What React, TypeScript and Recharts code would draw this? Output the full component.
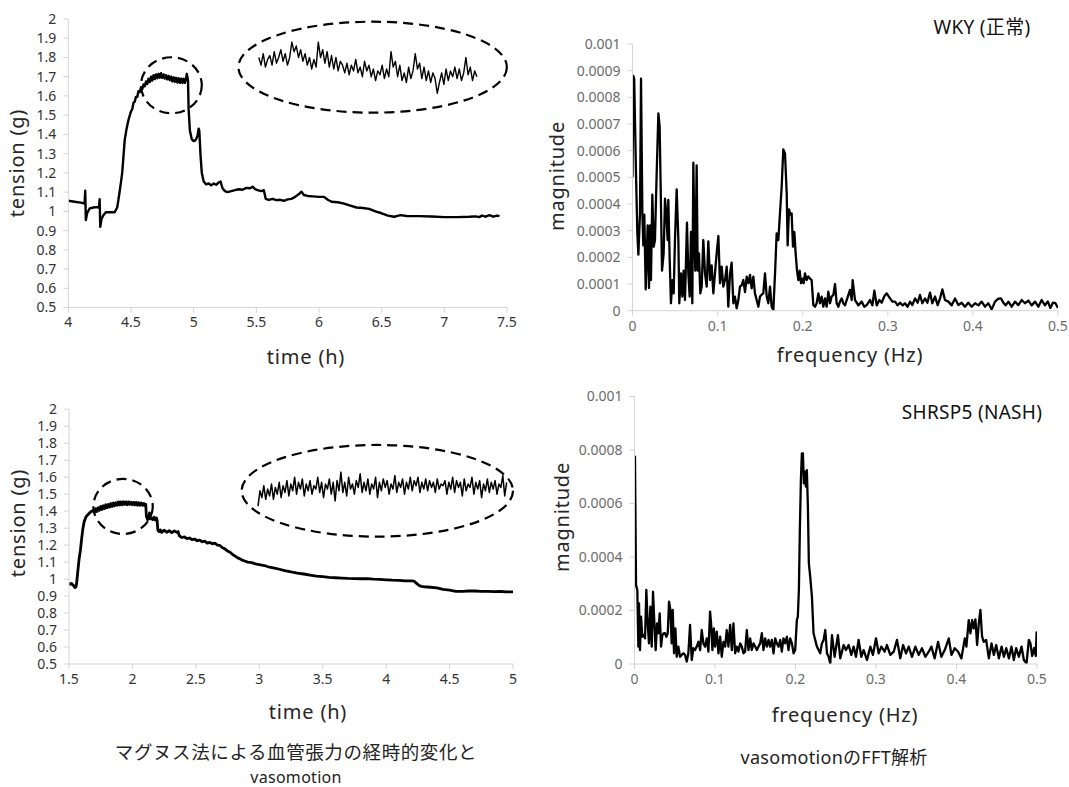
import React from "react";
import { LineChart, Line, XAxis, YAxis, ReferenceArea } from "recharts";

const FONT = '"Noto Sans", "Noto Sans CJK JP", sans-serif';
const AXIS = "#d4d4d4";

// ---- WKY (control): tension trace [time h, tension g]
const wkyTension: [number, number][] = [
  [4.0, 1.055], [4.05, 1.05], [4.1, 1.045], [4.13, 1.04], [4.135, 1.107], [4.14, 0.955], [4.15, 0.99],
  [4.17, 1.015], [4.2, 1.02], [4.23, 1.022], [4.245, 1.02], [4.25, 1.063], [4.255, 0.92], [4.265, 0.96],
  [4.28, 0.98], [4.3, 0.995], [4.33, 0.995], [4.37, 0.995], [4.39, 1.02], [4.4, 1.06], [4.42, 1.15],
  [4.43, 1.2], [4.45, 1.37], [4.465, 1.43], [4.48, 1.475], [4.5, 1.52], [4.51, 1.53], [4.52, 1.565],
  [4.53, 1.57], [4.54, 1.595], [4.55, 1.595], [4.56, 1.625], [4.57, 1.62], [4.58, 1.645], [4.59, 1.635],
  [4.6, 1.66], [4.61, 1.65], [4.62, 1.675], [4.63, 1.662], [4.64, 1.69], [4.65, 1.672], [4.66, 1.7],
  [4.67, 1.68], [4.68, 1.708], [4.69, 1.688], [4.7, 1.712], [4.71, 1.692], [4.72, 1.715], [4.73, 1.695],
  [4.74, 1.718], [4.75, 1.694], [4.76, 1.712], [4.77, 1.69], [4.78, 1.708], [4.79, 1.686], [4.8, 1.704],
  [4.81, 1.682], [4.82, 1.7], [4.83, 1.676], [4.84, 1.697], [4.85, 1.673], [4.86, 1.694], [4.87, 1.67],
  [4.88, 1.692], [4.89, 1.668], [4.9, 1.69], [4.91, 1.667], [4.92, 1.69], [4.93, 1.668], [4.94, 1.692],
  [4.945, 1.715], [4.955, 1.68], [4.96, 1.53], [4.97, 1.42], [4.985, 1.375], [5.0, 1.365], [5.015, 1.37],
  [5.03, 1.39], [5.04, 1.43], [5.045, 1.42], [5.055, 1.29], [5.065, 1.2], [5.08, 1.155], [5.1, 1.14],
  [5.12, 1.145], [5.14, 1.135], [5.16, 1.145], [5.18, 1.138], [5.2, 1.15], [5.215, 1.155], [5.23, 1.12],
  [5.25, 1.105], [5.27, 1.1], [5.3, 1.105], [5.33, 1.11], [5.36, 1.115], [5.39, 1.112], [5.42, 1.122],
  [5.45, 1.12], [5.47, 1.128], [5.49, 1.115], [5.51, 1.11], [5.54, 1.105], [5.56, 1.11], [5.575, 1.065],
  [5.6, 1.06], [5.63, 1.065], [5.66, 1.058], [5.69, 1.06], [5.72, 1.055], [5.75, 1.062], [5.78, 1.065],
  [5.81, 1.075], [5.84, 1.09], [5.86, 1.102], [5.88, 1.085], [5.91, 1.08], [5.95, 1.078], [6.0, 1.075],
  [6.04, 1.075], [6.07, 1.06], [6.1, 1.05], [6.15, 1.047], [6.2, 1.04], [6.25, 1.03], [6.3, 1.02],
  [6.35, 1.017], [6.4, 1.013], [6.45, 1.0], [6.5, 0.99], [6.55, 0.978], [6.6, 0.972], [6.65, 0.98],
  [6.7, 0.976], [6.8, 0.975], [6.9, 0.973], [7.0, 0.97], [7.1, 0.97], [7.2, 0.972], [7.25, 0.974],
  [7.28, 0.97], [7.3, 0.978], [7.33, 0.972], [7.36, 0.98], [7.39, 0.972], [7.42, 0.978], [7.44, 0.975],
];

// zoomed vasomotion trace shown inside the big ring (tension g), sampled evenly
const wkyInset = [
  1.8, 1.76, 1.82, 1.75, 1.79, 1.81, 1.76, 1.83, 1.77, 1.8,
  1.84, 1.78, 1.82, 1.76, 1.8, 1.88, 1.83, 1.86, 1.8, 1.84,
  1.78, 1.82, 1.76, 1.8, 1.74, 1.79, 1.75, 1.88, 1.8, 1.84,
  1.77, 1.83, 1.75, 1.81, 1.74, 1.8, 1.73, 1.78, 1.76, 1.72,
  1.77, 1.71, 1.76, 1.73, 1.79, 1.72, 1.75, 1.7, 1.78, 1.73,
  1.76, 1.7, 1.74, 1.68, 1.73, 1.71, 1.76, 1.69, 1.74, 1.7,
  1.83, 1.75, 1.78, 1.7, 1.76, 1.68, 1.72, 1.67, 1.75, 1.69,
  1.73, 1.82, 1.74, 1.77, 1.69, 1.75, 1.68, 1.73, 1.67, 1.72,
  1.69, 1.614, 1.67, 1.72, 1.66, 1.74, 1.68, 1.73, 1.7, 1.75,
  1.69, 1.74, 1.68, 1.72, 1.8, 1.71, 1.75, 1.68, 1.73, 1.7,
];
const wkyInsetStart = 5.52;
const wkyInsetEnd = 7.26;
const wkyRings = [
  { x1: 5.357, x2: 7.499, y1: 1.513, y2: 1.986 },
  { x1: 4.58, x2: 5.065, y1: 1.51, y2: 1.801 },
];

// ---- SHRSP5 (NASH): tension trace [time h, tension g]
const nashTension: [number, number][] = [
  [1.5, 0.978], [1.51, 0.97], [1.52, 0.975], [1.53, 0.965], [1.54, 0.96], [1.545, 0.95], [1.555, 0.955],
  [1.56, 0.975], [1.57, 1.05], [1.58, 1.12], [1.59, 1.17], [1.6, 1.24], [1.61, 1.3], [1.62, 1.34],
  [1.635, 1.368], [1.65, 1.38], [1.67, 1.395], [1.69, 1.405], [1.7, 1.392], [1.71, 1.415], [1.72, 1.398],
  [1.73, 1.42], [1.74, 1.405], [1.75, 1.428], [1.76, 1.41], [1.77, 1.432], [1.78, 1.415], [1.79, 1.438],
  [1.8, 1.42], [1.81, 1.44], [1.82, 1.425], [1.83, 1.445], [1.84, 1.428], [1.85, 1.448], [1.86, 1.432],
  [1.87, 1.45], [1.88, 1.435], [1.89, 1.455], [1.9, 1.437], [1.91, 1.455], [1.92, 1.438], [1.93, 1.456],
  [1.94, 1.44], [1.95, 1.455], [1.96, 1.438], [1.97, 1.455], [1.98, 1.44], [1.99, 1.453], [2.0, 1.438],
  [2.01, 1.452], [2.02, 1.437], [2.03, 1.452], [2.04, 1.435], [2.05, 1.45], [2.06, 1.435], [2.07, 1.448],
  [2.08, 1.434], [2.09, 1.446], [2.1, 1.432], [2.105, 1.44], [2.11, 1.37], [2.12, 1.35], [2.13, 1.365],
  [2.135, 1.39], [2.14, 1.355], [2.15, 1.36], [2.16, 1.35], [2.17, 1.365], [2.18, 1.348], [2.19, 1.36],
  [2.195, 1.345], [2.2, 1.29], [2.21, 1.28], [2.22, 1.29], [2.23, 1.275], [2.25, 1.288], [2.27, 1.276],
  [2.29, 1.285], [2.31, 1.274], [2.33, 1.284], [2.35, 1.275], [2.36, 1.28], [2.37, 1.255], [2.39, 1.245],
  [2.41, 1.248], [2.43, 1.238], [2.45, 1.242], [2.47, 1.232], [2.49, 1.236], [2.51, 1.226], [2.53, 1.23],
  [2.55, 1.22], [2.57, 1.224], [2.59, 1.212], [2.61, 1.216], [2.63, 1.208], [2.65, 1.212], [2.67, 1.2],
  [2.69, 1.198], [2.71, 1.185], [2.73, 1.178], [2.75, 1.165], [2.77, 1.158], [2.79, 1.145], [2.81, 1.135],
  [2.83, 1.125], [2.85, 1.118], [2.87, 1.11], [2.89, 1.105], [2.91, 1.1], [2.94, 1.097], [2.97, 1.09],
  [3.0, 1.085], [3.04, 1.08], [3.08, 1.07], [3.12, 1.065], [3.16, 1.058], [3.2, 1.05], [3.25, 1.042],
  [3.3, 1.035], [3.35, 1.03], [3.4, 1.024], [3.45, 1.018], [3.5, 1.014], [3.55, 1.01], [3.6, 1.008],
  [3.65, 1.006], [3.7, 1.004], [3.75, 1.003], [3.8, 1.002], [3.85, 1.003], [3.9, 1.0], [3.95, 0.998],
  [4.0, 0.996], [4.05, 0.994], [4.1, 0.993], [4.15, 0.99], [4.2, 0.99], [4.22, 0.988], [4.24, 0.975],
  [4.26, 0.962], [4.28, 0.957], [4.3, 0.955], [4.35, 0.952], [4.4, 0.948], [4.45, 0.94], [4.5, 0.935],
  [4.55, 0.928], [4.6, 0.928], [4.65, 0.93], [4.7, 0.93], [4.75, 0.928], [4.8, 0.928], [4.85, 0.926],
  [4.9, 0.927], [4.95, 0.925], [5.0, 0.925],
];

const nashInset = [
  1.43, 1.52, 1.48, 1.55, 1.47, 1.53, 1.49, 1.56, 1.47, 1.54,
  1.5, 1.57, 1.48, 1.55, 1.51, 1.58, 1.49, 1.56, 1.52, 1.6,
  1.5, 1.57, 1.53, 1.59, 1.49, 1.56, 1.52, 1.58, 1.5, 1.55,
  1.53, 1.6, 1.51, 1.57, 1.48, 1.56, 1.53, 1.59, 1.5, 1.57,
  1.46, 1.58, 1.52, 1.63, 1.51, 1.57, 1.49, 1.6, 1.53, 1.56,
  1.5, 1.58, 1.54, 1.62, 1.51, 1.57, 1.52, 1.59, 1.5, 1.56,
  1.53, 1.6, 1.48, 1.57, 1.52, 1.59, 1.54, 1.58, 1.5, 1.56,
  1.53, 1.61, 1.51, 1.57, 1.54, 1.59, 1.5, 1.57, 1.53, 1.6,
  1.52, 1.58, 1.55, 1.6, 1.51, 1.57, 1.53, 1.59, 1.52, 1.58,
  1.54, 1.57, 1.51, 1.59, 1.53, 1.56, 1.55, 1.58, 1.5, 1.57,
  1.53, 1.6, 1.51, 1.58, 1.54, 1.57, 1.49, 1.59, 1.52, 1.56,
  1.54, 1.6, 1.5, 1.57, 1.53, 1.58, 1.48, 1.56, 1.52, 1.59,
  1.51, 1.57, 1.53, 1.58, 1.5, 1.56, 1.54, 1.61, 1.49, 1.57,
];
const nashInsetStart = 2.99;
const nashInsetEnd = 4.95;
const nashRings = [
  { x1: 2.861, x2: 5.0, y1: 1.25, y2: 1.79 },
  { x1: 1.692, x2: 2.16, y1: 1.266, y2: 1.59 },
];

// ---- FFT spectra: [frequency Hz, magnitude x 1e-4]
const wkyFft: [number, number][] = [
  [0, 5.0], [0.001, 8.8], [0.002, 8.7], [0.0041, 5.15], [0.0057, 2.9], [0.0069, 2.1], [0.0088, 3.65],
  [0.01, 8.7], [0.0116, 3.65], [0.0127, 2.45], [0.0139, 3.6], [0.0155, 0.8], [0.0178, 3.2], [0.0194, 0.85],
  [0.0206, 3.2], [0.0217, 1.15], [0.0233, 4.35], [0.0249, 2.4], [0.0264, 2.65], [0.0284, 5.15], [0.0304, 7.4],
  [0.0319, 6.9], [0.0335, 3.9], [0.0347, 1.5], [0.0366, 2.15], [0.0382, 4.2], [0.0397, 3.65], [0.0413, 2.65],
  [0.0421, 4.15], [0.0437, 1.9], [0.0452, 0.28], [0.0468, 1.15], [0.0484, 0.65], [0.0499, 2.65], [0.0519, 4.55],
  [0.0539, 2.65], [0.055, 0.28], [0.057, 1.4], [0.0586, 0.53], [0.0601, 1.5], [0.0617, 0.4], [0.064, 3.3],
  [0.0656, 1.4], [0.0672, 0.53], [0.0687, 2.95], [0.0703, 0.28], [0.0715, 5.55], [0.0727, 2.9], [0.0738, 1.5],
  [0.0754, 5.45], [0.0766, 1.5], [0.0781, 2.15], [0.0797, 0.65], [0.0813, 0.9], [0.0832, 2.65], [0.0852, 1.4],
  [0.0872, 0.9], [0.0891, 2.6], [0.0911, 1.15], [0.093, 1.7], [0.095, 0.65], [0.0969, 1.4], [0.0989, 2.15],
  [0.1009, 2.8], [0.1028, 1.03], [0.1048, 1.65], [0.1067, 0.9], [0.1087, 1.15], [0.1107, 1.65], [0.1126, 0.15],
  [0.1146, 1.4], [0.1165, 1.8], [0.1185, 0.28], [0.1204, 0.53], [0.1224, 0.09], [0.1244, 0.4], [0.1263, 0.9],
  [0.1283, 0.96], [0.1302, 1.15], [0.1322, 0.7], [0.1342, 1.28], [0.1361, 1.03], [0.1381, 1.34], [0.14, 0.84],
  [0.142, 1.28], [0.1439, 0.65], [0.1459, 0.4], [0.1479, 0.15], [0.1498, 0.53], [0.1518, 0.6], [0.1537, 0.65],
  [0.1557, 1.4], [0.1577, 0.53], [0.1596, 0.28], [0.1616, 0.9], [0.1635, 0.15], [0.1655, 0.03], [0.1675, 1.4],
  [0.1694, 2.9], [0.1714, 2.65], [0.1733, 3.65], [0.1753, 4.65], [0.1772, 6.05], [0.1792, 5.9], [0.1812, 4.4],
  [0.1823, 2.45], [0.1839, 3.8], [0.1855, 3.6], [0.187, 3.65], [0.1886, 2.4], [0.1902, 2.95], [0.1917, 2.15],
  [0.1933, 1.5], [0.1949, 1.15], [0.1964, 1.5], [0.198, 1.03], [0.1996, 1.2], [0.2011, 1.03], [0.2027, 1.4],
  [0.2046, 1.15], [0.2066, 1.28], [0.2086, 1.2], [0.2105, 1.15], [0.2125, 0.21], [0.2145, 0.15], [0.2164, 0.28],
  [0.2184, 0.65], [0.2203, 0.28], [0.2223, 0.53], [0.2242, 0.15], [0.2262, 0.46], [0.2282, 0.15], [0.2301, 0.71],
  [0.2321, 0.28], [0.234, 0.53], [0.236, 0.59], [0.238, 1.0], [0.2399, 0.28], [0.2419, 0.15], [0.2438, 0.34],
  [0.2458, 0.46], [0.2477, 0.28], [0.2497, 0.2], [0.2556, 0.78], [0.2576, 0.4], [0.2587, 1.15], [0.2615, 0.4],
  [0.2654, 0.2], [0.2693, 0.34], [0.2724, 0.15], [0.2752, 0.21], [0.2791, 0.4], [0.2819, 0.2], [0.2842, 0.75],
  [0.287, 0.2], [0.2901, 0.4], [0.2928, 0.3], [0.296, 0.55], [0.2987, 0.65], [0.3026, 0.46], [0.3053, 0.34],
  [0.3085, 0.34], [0.3116, 0.2], [0.3143, 0.3], [0.3175, 0.2], [0.3202, 0.28], [0.3233, 0.15], [0.3261, 0.34],
  [0.3288, 0.21], [0.332, 0.46], [0.3351, 0.3], [0.3378, 0.59], [0.3406, 0.28], [0.3437, 0.46], [0.3465, 0.3],
  [0.3496, 0.68], [0.3523, 0.28], [0.3555, 0.53], [0.3586, 0.21], [0.3614, 0.46], [0.3641, 0.8], [0.3672, 0.4],
  [0.3712, 0.34], [0.3751, 0.2], [0.379, 0.46], [0.3829, 0.21], [0.3868, 0.3], [0.3907, 0.15], [0.3946, 0.3],
  [0.3986, 0.15], [0.4025, 0.28], [0.4064, 0.2], [0.4103, 0.34], [0.4142, 0.15], [0.4181, 0.28], [0.4221, 0.05],
  [0.426, 0.34], [0.4299, 0.45], [0.433, 0.46], [0.4358, 0.3], [0.4385, 0.2], [0.4417, 0.34], [0.4456, 0.15],
  [0.4495, 0.34], [0.4534, 0.21], [0.4573, 0.4], [0.4612, 0.28], [0.4652, 0.38], [0.4691, 0.2], [0.473, 0.34],
  [0.4769, 0.15], [0.4808, 0.4], [0.4847, 0.2], [0.488, 0.35], [0.491, 0.1], [0.494, 0.3], [0.497, 0.28],
  [0.5, 0.1],
];

const nashFft: [number, number][] = [
  [0, 6.6], [0.0006, 7.75], [0.0019, 2.95], [0.0035, 2.77], [0.0048, 0.65], [0.0056, 2.27], [0.0068, 0.52],
  [0.0081, 1.77], [0.0097, 1.02], [0.0114, 1.08], [0.0131, 0.96], [0.0147, 2.77], [0.0164, 1.52], [0.018, 0.77],
  [0.0197, 2.14], [0.0214, 0.65], [0.023, 2.7], [0.0247, 1.52], [0.0263, 0.52], [0.028, 1.52], [0.0296, 1.15],
  [0.0313, 1.89], [0.033, 0.65], [0.0346, 1.08], [0.0363, 1.15], [0.0379, 1.15], [0.0396, 1.02], [0.0413, 1.15],
  [0.0429, 2.33], [0.0446, 2.02], [0.0462, 0.77], [0.0475, 2.02], [0.0491, 0.4], [0.0508, 1.33], [0.0524, 0.27],
  [0.0545, 0.65], [0.0566, 0.27], [0.0586, 0.34], [0.0607, 0.4], [0.0628, 0.34], [0.0649, 0.09], [0.0669, 0.4],
  [0.069, 1.46], [0.0711, 0.15], [0.0732, 0.59], [0.0752, 0.52], [0.0773, 0.65], [0.0794, 0.83], [0.0815, 0.52],
  [0.0835, 1.27], [0.0856, 0.77], [0.0877, 0.65], [0.0898, 0.96], [0.0918, 0.46], [0.0939, 1.96], [0.0951, 1.52],
  [0.0968, 0.52], [0.0985, 1.33], [0.1001, 0.65], [0.1022, 1.21], [0.1043, 0.4], [0.1064, 1.02], [0.1084, 0.27],
  [0.1105, 0.83], [0.1126, 0.65], [0.1146, 1.27], [0.1167, 0.65], [0.1188, 1.46], [0.1209, 0.52], [0.1229, 1.52],
  [0.125, 0.4], [0.1271, 0.65], [0.1291, 0.46], [0.1312, 0.77], [0.1333, 0.65], [0.1354, 0.4], [0.1374, 0.46],
  [0.1395, 1.27], [0.1416, 0.52], [0.1437, 0.96], [0.1457, 0.52], [0.1478, 0.77], [0.1499, 0.65], [0.152, 0.52],
  [0.154, 0.65], [0.1561, 0.77], [0.1582, 1.15], [0.1602, 0.52], [0.1623, 0.96], [0.1644, 0.65], [0.1665, 0.9],
  [0.1685, 0.65], [0.1706, 0.9], [0.1727, 0.4], [0.1748, 0.96], [0.1768, 0.77], [0.1789, 0.65], [0.181, 0.9],
  [0.183, 0.46], [0.1851, 0.96], [0.1872, 0.77], [0.1893, 1.02], [0.1913, 0.52], [0.1934, 0.96], [0.1955, 0.77],
  [0.1976, 0.4], [0.1996, 0.52], [0.2017, 1.64], [0.2029, 1.77], [0.2042, 2.77], [0.2054, 5.0], [0.2067, 6.88],
  [0.2079, 7.87], [0.2092, 7.87], [0.2104, 6.75], [0.2117, 7.19], [0.2129, 6.63], [0.2141, 7.25], [0.2154, 5.88],
  [0.2166, 3.76], [0.2183, 3.26], [0.2204, 2.52], [0.2224, 1.15], [0.2245, 0.9], [0.2266, 0.65], [0.2287, 0.52],
  [0.2307, 0.4], [0.2328, 0.77], [0.2349, 0.9], [0.237, 1.27], [0.2391, 0.4], [0.2411, 0.27], [0.2432, 0.02],
  [0.2453, 1.08], [0.2486, 0.27], [0.2527, 1.08], [0.2556, 0.21], [0.2598, 0.71], [0.2627, 0.52], [0.266, 0.71],
  [0.2693, 0.34], [0.2722, 0.65], [0.2751, 0.27], [0.2784, 0.9], [0.2817, 0.27], [0.2846, 0.52], [0.2888, 0.15],
  [0.293, 0.65], [0.2962, 0.34], [0.3, 0.96], [0.3033, 0.4], [0.3066, 0.65], [0.3107, 0.46], [0.3136, 0.71],
  [0.3178, 0.34], [0.322, 0.46], [0.3261, 0.9], [0.3302, 0.21], [0.3336, 0.71], [0.3373, 0.4], [0.3406, 0.65],
  [0.3447, 0.27], [0.3489, 0.65], [0.353, 0.34], [0.3571, 0.59], [0.3613, 0.27], [0.3655, 0.46], [0.3688, 0.65],
  [0.3729, 0.21], [0.3771, 0.83], [0.3812, 0.27], [0.3854, 0.52], [0.3904, 0.96], [0.3937, 0.34], [0.3978, 0.59],
  [0.402, 0.46], [0.4061, 0.21], [0.4103, 0.96], [0.4123, 0.65], [0.4152, 1.64], [0.4173, 1.15], [0.4194, 1.64],
  [0.4214, 1.33], [0.4235, 1.67], [0.4256, 0.71], [0.4277, 1.52], [0.4297, 2.02], [0.4318, 1.02], [0.4339, 0.83],
  [0.4368, 0.9], [0.4402, 0.21], [0.4435, 0.77], [0.4464, 0.34], [0.4493, 0.71], [0.4526, 0.21], [0.456, 0.65],
  [0.4589, 0.27], [0.4618, 0.59], [0.4651, 0.21], [0.4683, 0.65], [0.4712, 0.15], [0.4741, 0.59], [0.4775, 0.27],
  [0.4808, 0.65], [0.4837, 0.15], [0.487, 0.02], [0.4899, 0.9], [0.4919, 0.77], [0.494, 0.3], [0.4965, 0.6],
  [0.4985, 0.3], [0.4995, 1.18], [0.5, 0.55],
];

// ---- axis ticks
const tensionTicks = [0.5, 0.6, 0.7, 0.8, 0.9, 1, 1.1, 1.2, 1.3, 1.4, 1.5, 1.6, 1.7, 1.8, 1.9, 2];
const wkyTimeTicks = [4, 4.5, 5, 5.5, 6, 6.5, 7, 7.5];
const nashTimeTicks = [1.5, 2, 2.5, 3, 3.5, 4, 4.5, 5];
const freqTicks = [0, 0.1, 0.2, 0.3, 0.4, 0.5];
const wkyMagTicks = [0, 0.0001, 0.0002, 0.0003, 0.0004, 0.0005, 0.0006, 0.0007, 0.0008, 0.0009, 0.001];
const nashMagTicks = [0, 0.0002, 0.0004, 0.0006, 0.0008, 0.001];

const toPts = (pairs: [number, number][]) => pairs.map(([x, y]) => ({ x, y }));
const fftPts = (pairs: [number, number][]) => pairs.map(([x, m]) => ({ x, y: m * 1e-4 }));
const insetPts = (vals: number[], start: number, end: number) =>
  vals.map((y, i) => ({ x: start + ((end - start) * i) / (vals.length - 1), y }));

const Ring = (p: any) => (
  <ellipse
    cx={p.x + p.width / 2}
    cy={p.y + p.height / 2}
    rx={Math.abs(p.width) / 2}
    ry={Math.abs(p.height) / 2}
    fill="none"
    stroke="#000"
    strokeWidth={2.2}
    strokeDasharray="10 6"
  />
);

interface PanelProps {
  left: number;
  top: number;
  width: number;
  height: number;
  margin: { top: number; right: number; bottom: number; left: number };
  yWidth: number;
  xDomain: [number, number];
  xTicks: number[];
  yDomain: [number, number];
  yTicks: number[];
  tickColor: string;
  series: { data: { x: number; y: number }[]; width: number }[];
  rings?: { x1: number; x2: number; y1: number; y2: number }[];
}

function Panel(p: PanelProps) {
  const tick = { fill: p.tickColor, fontSize: 14, fontFamily: FONT };
  return (
    <div style={{ position: "absolute", left: p.left, top: p.top }}>
      <LineChart width={p.width} height={p.height} margin={p.margin}>
        <XAxis
          type="number"
          dataKey="x"
          domain={p.xDomain}
          ticks={p.xTicks}
          interval={0}
          allowDataOverflow
          height={30}
          tick={tick}
          tickSize={5}
          tickMargin={5}
          axisLine={{ stroke: AXIS }}
          tickLine={{ stroke: AXIS }}
        />
        <YAxis
          type="number"
          domain={p.yDomain}
          ticks={p.yTicks}
          interval={0}
          allowDataOverflow
          width={p.yWidth}
          tick={tick}
          tickSize={5}
          tickMargin={7}
          axisLine={{ stroke: AXIS }}
          tickLine={{ stroke: AXIS }}
        />
        {(p.rings || []).map((r, i) => (
          <ReferenceArea key={i} x1={r.x1} x2={r.x2} y1={r.y1} y2={r.y2} ifOverflow="visible" shape={Ring} />
        ))}
        {p.series.map((s, i) => (
          <Line
            key={i}
            data={s.data}
            dataKey="y"
            type="linear"
            stroke="#000"
            strokeWidth={s.width}
            strokeLinejoin="round"
            dot={false}
            activeDot={false}
            isAnimationActive={false}
          />
        ))}
      </LineChart>
    </div>
  );
}

function Txt({ x, y, text, size = 20, rotate = false, spacing = 0.8, color = "#262626" }: any) {
  return (
    <div
      style={{
        position: "absolute",
        left: x,
        top: y,
        transform: `translate(-50%, -50%)${rotate ? " rotate(-90deg)" : ""}`,
        whiteSpace: "nowrap",
        fontFamily: FONT,
        fontSize: size,
        letterSpacing: spacing,
        color,
        lineHeight: 1,
      }}
    >
      {text}
    </div>
  );
}

export default function App() {
  return (
    <div style={{ position: "absolute", left: 0, top: 0, width: 1069, height: 787, overflow: "hidden", background: "#fff" }}>
      <Panel
        left={0}
        top={0}
        width={520}
        height={370}
        margin={{ top: 19, right: 13, bottom: 32.5, left: 18.3 }}
        yWidth={50}
        xDomain={[4, 7.5]}
        xTicks={wkyTimeTicks}
        yDomain={[0.5, 2]}
        yTicks={tensionTicks}
        tickColor="#333"
        rings={wkyRings}
        series={[
          { data: toPts(wkyTension), width: 2.4 },
          { data: insetPts(wkyInset, wkyInsetStart, wkyInsetEnd), width: 1.4 },
        ]}
      />
      <Panel
        left={530}
        top={0}
        width={539}
        height={370}
        margin={{ top: 44, right: 11, bottom: 29.3, left: 42.5 }}
        yWidth={60}
        xDomain={[0, 0.5]}
        xTicks={freqTicks}
        yDomain={[0, 0.001]}
        yTicks={wkyMagTicks}
        tickColor="#6b6b6b"
        series={[{ data: fftPts(wkyFft), width: 2.3 }]}
      />
      <Panel
        left={0}
        top={380}
        width={520}
        height={330}
        margin={{ top: 29.3, right: 7, bottom: 16, left: 19 }}
        yWidth={50}
        xDomain={[1.5, 5]}
        xTicks={nashTimeTicks}
        yDomain={[0.5, 2]}
        yTicks={tensionTicks}
        tickColor="#333"
        rings={nashRings}
        series={[
          { data: toPts(nashTension), width: 2.8 },
          { data: insetPts(nashInset, nashInsetStart, nashInsetEnd), width: 1.5 },
        ]}
      />
      <Panel
        left={530}
        top={380}
        width={539}
        height={330}
        margin={{ top: 16.5, right: 32, bottom: 16, left: 44.5 }}
        yWidth={60}
        xDomain={[0, 0.5]}
        xTicks={freqTicks}
        yDomain={[0, 0.001]}
        yTicks={nashMagTicks}
        tickColor="#6b6b6b"
        series={[{ data: fftPts(nashFft), width: 2.3 }]}
      />

      <Txt x={17} y={163} text="tension (g)" rotate />
      <Txt x={306} y={357} text="time (h)" />
      <Txt x={557} y={176} text="magnitude" rotate />
      <Txt x={850} y={355} text="frequency (Hz)" />
      <Txt x={982} y={27} text="WKY (正常)" size={19} spacing={0.3} color="#111" />

      <Txt x={18} y={523} text="tension (g)" rotate />
      <Txt x={308} y={712} text="time (h)" />
      <Txt x={562} y={517} text="magnitude" rotate />
      <Txt x={845} y={715} text="frequency (Hz)" />
      <Txt x={972} y={412} text="SHRSP5 (NASH)" size={19} spacing={0.3} color="#111" />

      <Txt x={296} y={752} text="マグヌス法による血管張力の経時的変化と" size={18.5} spacing={0.6} color="#222" />
      <Txt x={296} y={777} text="vasomotion" size={16} spacing={0.3} color="#222" />
      <Txt x={834} y={757} text="vasomotionのFFT解析" size={18} spacing={0.3} color="#222" />
    </div>
  );
}
